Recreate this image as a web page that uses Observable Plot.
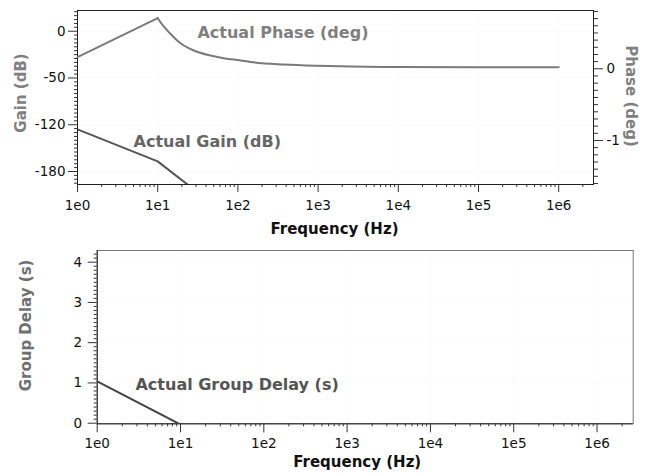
<!DOCTYPE html>
<html>
<head>
<meta charset="utf-8">
<script src="https://cdn.jsdelivr.net/npm/d3@7"></script>
<script src="https://cdn.jsdelivr.net/npm/@observablehq/plot@0.6"></script>
<style>
  html, body { margin: 0; padding: 0; background: #fff; }
  #wrap { position: relative; width: 648px; height: 474px; overflow: hidden; font-family: "DejaVu Sans", sans-serif; }
  #wrap > div, #wrap > svg { position: absolute; left: 0; }
</style>
</head>
<body>
<div id="wrap"></div>
<script>
// ---------- data ----------
const freqTicks = [1, 10, 100, 1e3, 1e4, 1e5, 1e6];
const freqTickLabels = ["1e0", "1e1", "1e2", "1e3", "1e4", "1e5", "1e6"];
const gainTicks = [0, -60, -120, -180];
const gainTickLabels = ["0", "-50", "-120", "-180"];
const phaseTicks = [0, -1];
const phaseTickLabels = ["0", "-1"];
const delayTicks = [0, 1, 2, 3, 4];
const delayTickLabels = ["0", "1", "2", "3", "4"];

const gainFreq = [1, 10, 100];
const gainDb = [-126, -167, -247];

const phaseFreq = [1, 10, 11.9, 14.4, 17.5, 21.2, 28.2, 41.4, 66.7, 108, 143.6, 373, 973, 2535, 1e4, 1e5, 1e6];
const phaseDeg = [0.162, 0.706, 0.590, 0.488, 0.395, 0.325, 0.255, 0.195, 0.148, 0.116, 0.095, 0.060, 0.042, 0.032, 0.025, 0.021, 0.021];

const delayFreq = [1, 9.3];
const delaySec = [1.04, 0];

const seriesNames = ["Actual Phase (deg)", "Actual Gain (dB)", "Actual Group Delay (s)"];

// ---------- derived tables ----------
const gainData = gainFreq.map((f, i) => ({f, v: gainDb[i]}));
const phaseData = phaseFreq.map((f, i) => ({f, v: phaseDeg[i]}));
const delayData = delayFreq.map((f, i) => ({f, v: delaySec[i]}));
const peakF = phaseFreq[phaseDeg.indexOf(d3.max(phaseDeg))];

const xMax = Math.pow(10, 6.434);
const minorX = [];
for (let e = 0; e <= 6; e++) for (let m = 2; m <= 9; m++) { const v = m * Math.pow(10, e); if (v <= xMax) minorX.push(v); }
const minorGain = d3.range(-195, 26, 5).filter(v => v % 60 !== 0);
const minorPhase = d3.range(-16, 9).map(v => v / 10).filter(v => Math.abs(v % 1) > 1e-9);
const minorDelay = d3.range(0, 43).map(v => v / 10).filter(v => Math.abs(v % 1) > 1e-9);

const lbl = (ticks, labels) => d => labels[ticks.findIndex(t => Math.abs(t - d) < 1e-9)];
const FONT = "DejaVu Sans";
const TICK_FS = 13.5;
const base = (h, mt, mr, mb, ml) => ({
  width: 648, height: h, marginTop: mt, marginRight: mr, marginBottom: mb, marginLeft: ml,
  style: {fontFamily: FONT, background: "transparent", overflow: "visible", color: "#111"}
});
const gridStyle = {stroke: "#999", strokeOpacity: 0.14, strokeDasharray: "1,3"};
const titleStyle = {text: d => d, fontSize: 15, fontWeight: "bold", textAnchor: "middle", lineAnchor: "middle"};

// ---------- top panel: gain (left axis) ----------
const gainPlot = Plot.plot({
  ...base(240, 10, 55, 56, 77),
  x: {type: "log", domain: [1, xMax]},
  y: {domain: [-196.7, 26.6]},
  marks: [
    Plot.gridX(freqTicks, gridStyle),
    Plot.gridY(gainTicks, gridStyle),
    Plot.axisX(minorX, {tickSize: 3, tickFormat: () => "", label: null, stroke: "#333"}),
    Plot.axisX(freqTicks, {tickSize: 8, tickPadding: 8, tickFormat: lbl(freqTicks, freqTickLabels), label: null, fontSize: TICK_FS, stroke: "#333"}),
    Plot.axisY(minorGain, {tickSize: 3, tickFormat: () => "", label: null, stroke: "#333"}),
    Plot.axisY(gainTicks, {tickSize: 9, tickPadding: 3, tickFormat: lbl(gainTicks, gainTickLabels), label: null, fontSize: TICK_FS, stroke: "#333"}),
    Plot.line(gainData, {x: "f", y: "v", stroke: "#555", strokeWidth: 2, clip: true}),
    Plot.frame({stroke: "#222"}),
    Plot.text([seriesNames[1]], {x: 5, y: -141.4, text: d => d, textAnchor: "start", fontSize: 16, fontWeight: "bold", fill: "#666"}),
    Plot.text(["Gain (dB)"], {...titleStyle, frameAnchor: "left", rotate: -90, dx: -56, dy: -4.5, fill: "#808080"}),
    Plot.text(["Frequency (Hz)"], {...titleStyle, frameAnchor: "bottom", dx: -1, dy: 45, fill: "#111"})
  ]
});
gainPlot.style.top = "0px";

// ---------- top panel: phase (right axis) overlay ----------
const phasePlot = Plot.plot({
  ...base(240, 10, 55, 56, 77),
  x: {type: "log", domain: [1, xMax], axis: null},
  y: {domain: [-1.614, 0.813]},
  marks: [
    Plot.axisY(minorPhase, {anchor: "right", tickSize: 4, tickFormat: () => "", label: null, stroke: "#333"}),
    Plot.axisY(phaseTicks, {anchor: "right", tickSize: 9, tickPadding: 4, tickFormat: lbl(phaseTicks, phaseTickLabels), label: null, fontSize: TICK_FS, stroke: "#333"}),
    Plot.line(phaseData, {filter: d => d.f <= peakF, x: "f", y: "v", stroke: "#7a7a7a", strokeWidth: 2}),
    Plot.line(phaseData, {filter: d => d.f >= peakF, x: "f", y: "v", stroke: "#7a7a7a", strokeWidth: 2, curve: "monotone-x"}),
    Plot.text([seriesNames[0]], {x: 31.3, y: 0.506, text: d => d, textAnchor: "start", fontSize: 16, fontWeight: "bold", fill: "#808080"}),
    Plot.text(["Phase (deg)"], {...titleStyle, frameAnchor: "right", rotate: 90, dx: 37, dy: -1.5, fill: "#808080"})
  ]
});
phasePlot.style.top = "0px";

// ---------- bottom panel: group delay ----------
const delayPlot = Plot.plot({
  ...base(234, 10, 15.3, 50.7, 96.7),
  x: {type: "log", domain: [1, xMax]},
  y: {domain: [-0.015, 4.29]},
  marks: [
    Plot.gridX(freqTicks, gridStyle),
    Plot.gridY(delayTicks, gridStyle),
    Plot.axisX(minorX, {tickSize: 3, tickFormat: () => "", label: null, stroke: "#333"}),
    Plot.axisX(freqTicks, {tickSize: 9, tickPadding: 6, tickFormat: lbl(freqTicks, freqTickLabels), label: null, fontSize: TICK_FS, stroke: "#333"}),
    Plot.axisY(minorDelay, {tickSize: 3, tickFormat: () => "", label: null, stroke: "#333"}),
    Plot.axisY(delayTicks, {tickSize: 9, tickPadding: 6, tickFormat: lbl(delayTicks, delayTickLabels), label: null, fontSize: TICK_FS, stroke: "#333"}),
    Plot.frame({stroke: "#777"}),
    Plot.ruleX([1], {stroke: "#222"}),
    Plot.ruleY([-0.015], {stroke: "#222"}),
    Plot.line(delayData, {x: "f", y: "v", stroke: "#444", strokeWidth: 2, clip: true}),
    Plot.text([seriesNames[2]], {x: 2.88, y: 0.95, text: d => d, textAnchor: "start", fontSize: 16, fontWeight: "bold", fill: "#555"}),
    Plot.text(["Group Delay (s)"], {...titleStyle, frameAnchor: "left", rotate: -90, dx: -71, dy: -11.7, fill: "#707070"}),
    Plot.text(["Frequency (Hz)"], {...titleStyle, frameAnchor: "bottom", dx: -8, dy: 38, fill: "#111"})
  ]
});
delayPlot.style.top = "240px";

const wrap = document.getElementById("wrap");
wrap.append(gainPlot, phasePlot, delayPlot);
</script>
</body>
</html>
